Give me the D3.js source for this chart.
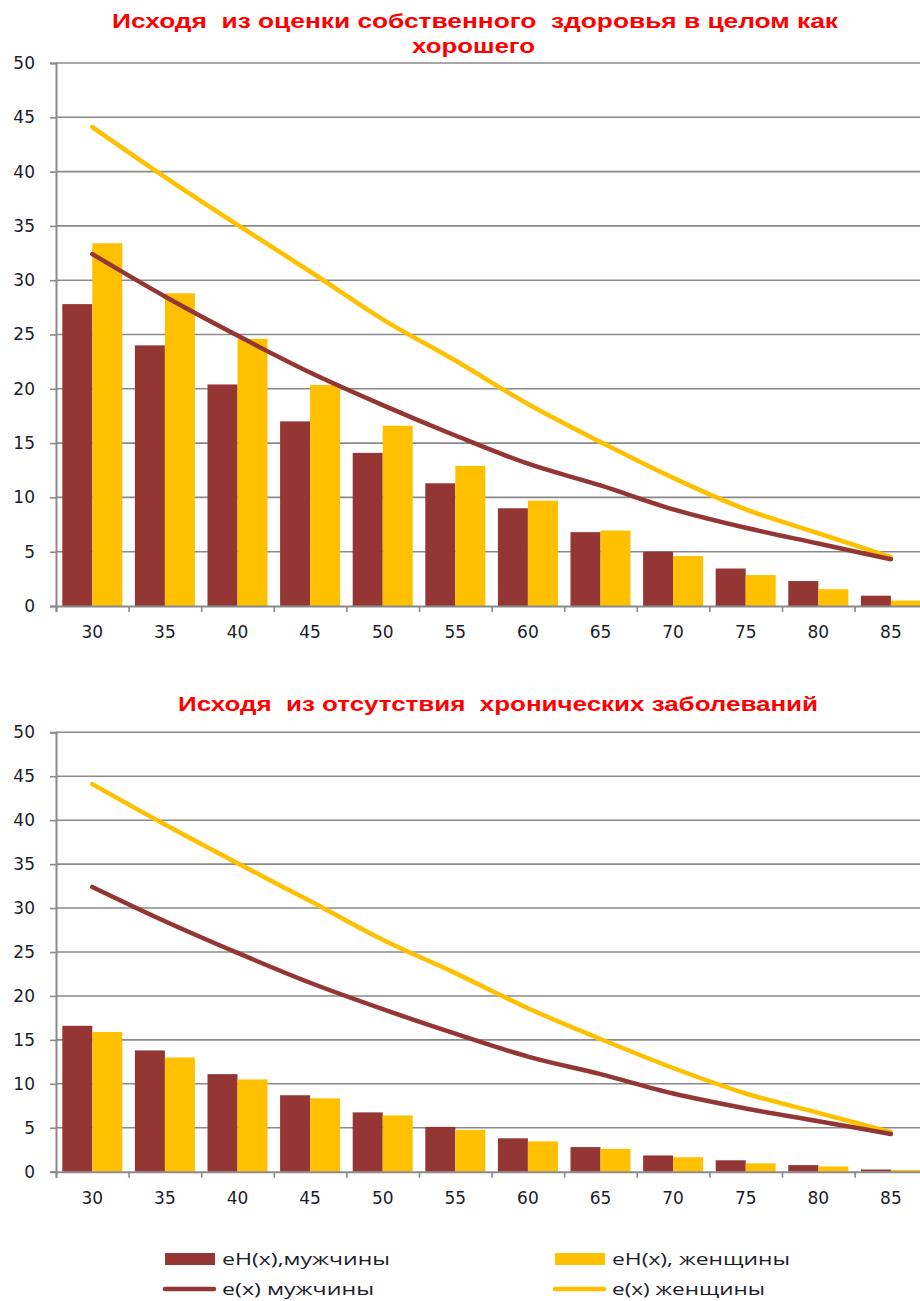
<!DOCTYPE html>
<html>
<head>
<meta charset="utf-8">
<script src="https://cdn.jsdelivr.net/npm/d3@7"></script>
<style>
  body { margin: 0; background: #fff; }
  svg { display: block; }
  text { white-space: pre; }
</style>
</head>
<body>
<svg id="chart" width="920" height="1301"></svg>
<script>
// ---- Data ----
const categories = ["30","35","40","45","50","55","60","65","70","75","80","85"];
const yTicks = [0,5,10,15,20,25,30,35,40,45,50];

// Chart 1: based on self-rated health as good
const eHMale1   = [27.8, 24.0, 20.4, 17.0, 14.1, 11.3, 9.0, 6.8, 5.0, 3.45, 2.3, 0.95];
const eHFemale1 = [33.4, 28.8, 24.6, 20.35, 16.6, 12.9, 9.7, 6.95, 4.6, 2.85, 1.55, 0.5];
// Chart 2: based on absence of chronic diseases
const eHMale2   = [16.6, 13.8, 11.1, 8.7, 6.75, 5.1, 3.8, 2.8, 1.85, 1.3, 0.75, 0.25];
const eHFemale2 = [15.9, 13.0, 10.5, 8.35, 6.4, 4.75, 3.45, 2.6, 1.65, 0.95, 0.6, 0.2];
// Life expectancy lines (same in both charts)
const eMale   = [32.4, 28.5, 24.9, 21.5, 18.5, 15.7, 13.1, 11.1, 8.9, 7.2, 5.75, 4.3];
const eFemale = [44.1, 39.5, 35.1, 30.8, 26.4, 22.6, 18.6, 15.1, 11.8, 8.9, 6.7, 4.5];

const title1 = ["Исходя  из оценки собственного  здоровья в целом как", "хорошего"];
const title2 = "Исходя  из отсутствия  хронических заболеваний";
const legendLabels = ["eH(x),мужчины", "eH(x), женщины", "e(x) мужчины", "e(x) женщины"];

const MAROON = "#943634", GOLD = "#FFC000", GRID = "#8a8a8a";

const svg = d3.select("#chart");

function drawChart(opts) {
  const { top, bottom, barsM, barsF } = opts;
  const left = 56, right = 927.2;
  const g = svg.append("g");
  const y = d3.scaleLinear().domain([0, 50]).range([bottom, top]);
  const x0 = d3.scaleBand().domain(categories).range([left, right])
      .paddingInner(0.1736).paddingOuter(0.0868);
  const x1 = d3.scaleBand().domain(["m","f"]).range([0, x0.bandwidth()]);

  // gridlines
  g.append("g").selectAll("line").data(yTicks.filter(d => d > 0)).join("line")
    .attr("x1", left).attr("x2", 920)
    .attr("y1", d => y(d)).attr("y2", d => y(d))
    .attr("stroke", GRID).attr("stroke-width", 1.6);

  // y axis
  const ya = g.append("g").attr("transform", `translate(${left},0)`)
    .call(d3.axisLeft(y).tickValues(yTicks).tickSize(6).tickPadding(15));
  ya.select(".domain").attr("stroke", GRID).attr("stroke-width", 2);
  ya.selectAll(".tick line").attr("stroke", GRID).attr("stroke-width", 1.6);
  ya.selectAll(".tick text").attr("font-family", "DejaVu Sans").attr("font-size", 17)
    .attr("fill", "#1c1c2a");

  // bars
  const grp = g.append("g").selectAll("g").data(categories).join("g")
    .attr("transform", d => `translate(${x0(d)},0)`);
  grp.append("rect")
    .attr("x", x1("m")).attr("width", x1.bandwidth())
    .attr("y", (d, i) => y(barsM[i])).attr("height", (d, i) => y(0) - y(barsM[i]))
    .attr("fill", MAROON);
  grp.append("rect")
    .attr("x", x1("f")).attr("width", x1.bandwidth())
    .attr("y", (d, i) => y(barsF[i])).attr("height", (d, i) => y(0) - y(barsF[i]))
    .attr("fill", GOLD);

  // x axis
  const xa = g.append("g").attr("transform", `translate(0,${bottom})`)
    .call(d3.axisBottom(d3.scaleLinear().domain([0, 12]).range([left, right]))
      .tickValues(d3.range(13)).tickSize(6).tickFormat(""));
  xa.select(".domain").attr("stroke", GRID).attr("stroke-width", 2);
  xa.selectAll(".tick line").attr("stroke", GRID).attr("stroke-width", 1.6);
  g.append("g").selectAll("text").data(categories).join("text")
    .attr("x", d => x0(d) + x0.bandwidth() / 2)
    .attr("y", bottom + 32)
    .attr("text-anchor", "middle")
    .attr("font-family", "DejaVu Sans").attr("font-size", 17).attr("fill", "#1c1c2a")
    .text(d => d);

  // lines
  const line = d3.line()
    .x((d, i) => x0(categories[i]) + x0.bandwidth() / 2)
    .y(d => y(d))
    .curve(d3.curveMonotoneX);
  g.append("path").datum(eFemale).attr("d", line)
    .attr("fill", "none").attr("stroke", GOLD).attr("stroke-width", 4.5)
    .attr("stroke-linecap", "round");
  g.append("path").datum(eMale).attr("d", line)
    .attr("fill", "none").attr("stroke", MAROON).attr("stroke-width", 4.5)
    .attr("stroke-linecap", "round");
}

drawChart({ top: 63, bottom: 606, barsM: eHMale1, barsF: eHFemale1 });
drawChart({ top: 732.3, bottom: 1171.7, barsM: eHMale2, barsF: eHFemale2 });

// titles
const tfont = "Liberation Sans";
svg.append("text").attr("x", 112).attr("y", 28).attr("font-family", tfont)
  .attr("font-weight", "bold").attr("font-size", 21).attr("fill", "#FF0000")
  .attr("textLength", 726).attr("lengthAdjust", "spacingAndGlyphs").text(title1[0]);
svg.append("text").attr("x", 412).attr("y", 53).attr("font-family", tfont)
  .attr("font-weight", "bold").attr("font-size", 21).attr("fill", "#FF0000")
  .attr("textLength", 123).attr("lengthAdjust", "spacingAndGlyphs").text(title1[1]);
svg.append("text").attr("x", 178).attr("y", 711).attr("font-family", tfont)
  .attr("font-weight", "bold").attr("font-size", 21).attr("fill", "#FF0000")
  .attr("textLength", 640).attr("lengthAdjust", "spacingAndGlyphs").text(title2);

// legend
const legendItems = [
  { label: legendLabels[0], color: MAROON, type: "rect", x: 165, y: 1259, w: 168 },
  { label: legendLabels[1], color: GOLD,   type: "rect", x: 555, y: 1259, w: 178 },
  { label: legendLabels[2], color: MAROON, type: "line", x: 165, y: 1289, w: 152 },
  { label: legendLabels[3], color: GOLD,   type: "line", x: 555, y: 1289, w: 153 }
];
const lg = svg.append("g").selectAll("g").data(legendItems).join("g")
  .attr("transform", d => `translate(${d.x},${d.y})`);
lg.filter(d => d.type === "rect").append("rect")
  .attr("x", 0).attr("y", -6).attr("width", 50).attr("height", 12).attr("fill", d => d.color);
lg.filter(d => d.type === "line").append("line")
  .attr("x1", 0).attr("x2", 49).attr("y1", 0).attr("y2", 0)
  .attr("stroke", d => d.color).attr("stroke-width", 4.5).attr("stroke-linecap", "round");
lg.append("text").attr("x", 57).attr("y", 0).attr("dy", "0.35em")
  .attr("font-family", "Open Sans").attr("font-size", 17).attr("fill", "#1c1c2a")
  .attr("textLength", d => d.w).attr("lengthAdjust", "spacingAndGlyphs")
  .text(d => d.label);
</script>
</body>
</html>
